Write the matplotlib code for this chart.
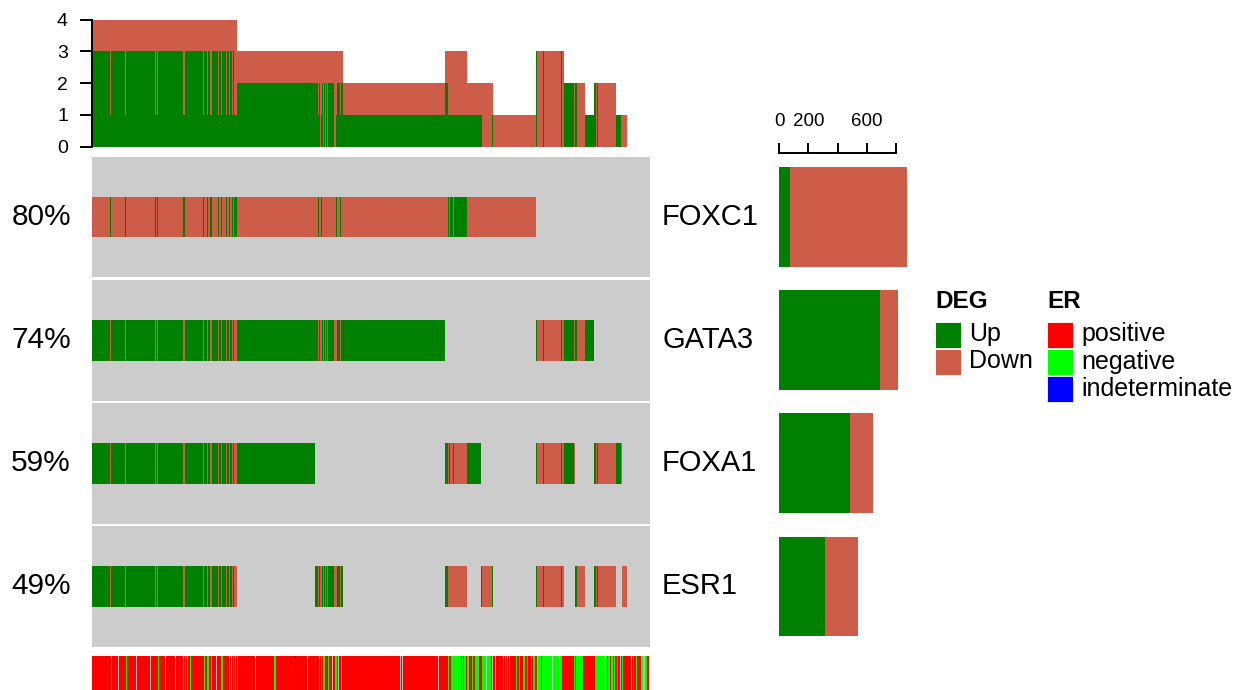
import numpy as np
import matplotlib
matplotlib.use("Agg")
import matplotlib.pyplot as plt
from matplotlib.patches import Rectangle

plt.rcParams['font.family'] = ['Liberation Sans', 'DejaVu Sans']

genes = ["FOXC1", "GATA3", "FOXA1", "ESR1"]

# Samples in display order, grouped into runs that share one DEG status
# per gene.  One character per gene (FOXC1, GATA3, FOXA1, ESR1):
# U = up, D = down, - = not differentially expressed.
run_lengths = [
    37, 2, 28, 2, 56, 2, 3, 2, 48, 2, 1, 2, 36, 2, 5, 2, 5, 2, 12, 2, 4, 2, 8, 2, 4, 2, 5, 2, 2, 6,
    154,
    6, 2, 2, 2, 2, 2, 2, 2, 2, 2, 2, 11, 3, 2, 7, 2, 4,
    201,
    6, 2, 2, 6, 2, 26, 27, 2, 20, 2,
    85,
    2, 12, 2, 33, 2, 4, 20, 2, 3, 17, 18, 4, 2, 2, 35, 10, 2, 10, 44,
]
run_states = [
    "DUUU", "UDDD", "DUUU", "UDDD", "DUUU", "UDDD", "DUUU", "UDDD", "DUUU", "UDDD",
    "DUUU", "UDDD", "DUUU", "UDDD", "DUUU", "UDDD", "DUUU", "UDDD", "DUUU", "UDDD",
    "DUUU", "UDDD", "DUUU", "UDDD", "DUUU", "UDDD", "DUUU", "UDDD", "DUUU", "UDDD",
    "DUU-",
    "DU-U", "UD-D", "DU-U", "DD-D", "UD-D", "DU-U", "DD-D", "DU-U", "DD-D", "DU-U",
    "DD-D", "DU-U", "DD-D", "UD-D", "DU-U", "UD-D", "DU-U",
    "DU--",
    "D-UU", "U-DD", "D-UD", "U-DD", "D-UD", "U-DD", "D-U-", "D--U", "D--D", "D--U",
    "D---",
    "-UUU", "-DDD", "-UUU", "-DDD", "-UUU", "-DDD", "-UU-", "-DD-", "-U-U", "-D-D",
    "-U--", "--UU", "--DD", "--UU", "--DD", "--U-", "--D-", "---D", "----",
]

# ER status of the same samples, as runs (P positive, N negative,
# I indeterminate, NA missing)
er_status = [
    "P", "N", "P", "NA", "P", "N", "P", "NA", "P", "NA", "P", "N", "P", "NA", "P", "NA",
    "P", "N", "P", "N", "P", "NA", "P", "N", "P", "N", "P", "N", "P", "N", "P", "NA",
    "P", "N", "P", "N", "P", "NA", "P", "N", "P", "N", "P", "N", "P", "NA", "P", "N",
    "P", "I", "P", "NA", "P", "N", "P", "N", "P", "N", "P", "N", "P", "NA", "P", "N",
    "P", "NA", "P", "N", "P", "NA", "P", "NA", "P", "NA", "P", "N", "P", "N", "P", "N",
    "P", "N", "P", "N", "P", "N", "P", "N", "P", "N", "NA", "N", "P", "NA", "P", "NA",
    "P", "N", "P", "N", "P", "N", "P", "N", "P", "N", "P", "N", "P", "N", "P", "N",
    "P", "N", "P", "N", "P", "NA", "N", "P", "N", "NA", "N", "NA", "N", "P", "N", "P",
    "N", "P", "N", "NA", "N", "P", "N", "P", "N", "P", "N", "P", "N", "P", "NA", "P",
    "N", "P", "NA", "P", "N", "P", "N", "P", "NA", "N", "NA", "N", "P",
]
er_lengths = [
    39, 2, 12, 2, 14, 2, 16, 2, 27, 2, 14, 2, 12, 2, 17, 2,
    14, 2, 2, 2, 2, 2, 4, 2, 25, 2, 4, 4, 4, 2, 8, 2,
    8, 4, 12, 2, 2, 2, 2, 2, 2, 2, 2, 2, 33, 2, 35, 4,
    38, 2, 21, 2, 22, 2, 2, 2, 2, 4, 6, 2, 6, 2, 4, 4,
    2, 2, 4, 2, 114, 2, 2, 2, 69, 2, 19, 2, 2, 20, 2, 2,
    2, 4, 2, 4, 6, 2, 5, 8, 6, 8, 2, 6, 2, 2, 4, 2,
    14, 2, 2, 2, 2, 2, 2, 2, 13, 2, 4, 2, 6, 4, 4, 2,
    4, 2, 2, 4, 4, 2, 6, 2, 21, 2, 12, 2, 4, 22, 2, 2,
    15, 24, 20, 2, 2, 1, 4, 2, 4, 2, 2, 4, 2, 4, 2, 2,
    2, 16, 2, 2, 2, 4, 2, 7, 2, 2, 4, 4, 5,
]

UP_COL = "#008000"
DOWN_COL = "#CD5C48"
BG_COL = "#CCCCCC"
ER_COLORS = {"P": "#FF0000", "N": "#00FF00", "I": "#0000FF", "NA": "#BEBEBE"}
ER_LABELS = [("P", "positive"), ("N", "negative"), ("I", "indeterminate")]

W, H = 1241, 690
fig = plt.figure(figsize=(W / 100, H / 100), dpi=100)


def box(x0, y0, x1, y1):
    """Axes rectangle from pixel edges measured from the top-left corner."""
    return [x0 / W, 1 - y1 / H, (x1 - x0) / W, (y1 - y0) / H]


lengths = np.array(run_lengths)
starts = np.concatenate([[0], np.cumsum(lengths)[:-1]])
n_samples = int(lengths.sum())
n_up = np.array([s.count("U") for s in run_states])
n_down = np.array([s.count("D") for s in run_states])

x_left, x_right = 91.5, 649.5
row_top, row_bottom = 155.5, 648.0
row_h = (row_bottom - row_top) / len(genes)

# ---- column barplot: number of DEGs per sample ----
ax_top = fig.add_axes(box(x_left, 19.7, x_right, 146.7))
ax_top.bar(starts, n_up, width=lengths, align="edge", color=UP_COL,
           linewidth=0, antialiased=False)
ax_top.bar(starts, n_down, width=lengths, bottom=n_up, align="edge",
           color=DOWN_COL, linewidth=0, antialiased=False)
ax_top.set_xlim(0, n_samples)
ax_top.set_ylim(0, 4)
for side in ("top", "right", "bottom"):
    ax_top.spines[side].set_visible(False)
ax_top.spines["left"].set_bounds(0, 4)
ax_top.spines["left"].set_linewidth(1.4)
ax_top.set_xticks([])
ax_top.set_yticks(range(5))
ax_top.tick_params(axis="y", length=9, width=1.4, pad=8, labelsize=14)
ax_top.patch.set_visible(False)

# ---- main oncoprint matrix ----
ax_m = fig.add_axes(box(x_left, row_top, x_right, row_bottom))
ax_m.set_xlim(0, n_samples)
ax_m.set_ylim(len(genes) - 0.5, -0.5)
ax_m.axis("off")
gene_up, gene_down = [], []
for gi, gene in enumerate(genes):
    ax_m.add_patch(Rectangle((0, gi - 0.49), n_samples, 0.98,
                             facecolor=BG_COL, linewidth=0))
    states = np.array([s[gi] for s in run_states])
    for code, color in (("U", UP_COL), ("D", DOWN_COL)):
        mask = states == code
        ax_m.barh(np.full(mask.sum(), gi), lengths[mask], left=starts[mask],
                  height=0.33, color=color, linewidth=0, antialiased=False)
    gene_up.append(int(lengths[states == "U"].sum()))
    gene_down.append(int(lengths[states == "D"].sum()))

    yc = 1 - (row_top + (gi + 0.5) * row_h) / H
    pct = round(100 * (gene_up[-1] + gene_down[-1]) / n_samples)
    fig.text(71 / W, yc, f"{pct}%", ha="right", va="center", fontsize=21.5)
    fig.text(662 / W, yc, gene, ha="left", va="center", fontsize=21)

# ---- ER annotation ----
ax_er = fig.add_axes(box(x_left, 656, x_right, 690))
er_len = np.array(er_lengths)
er_start = np.concatenate([[0], np.cumsum(er_len)[:-1]])
er_arr = np.array(er_status)
for code, color in ER_COLORS.items():
    mask = er_arr == code
    ax_er.bar(er_start[mask], np.ones(mask.sum()), width=er_len[mask], align="edge",
              color=color, linewidth=0, antialiased=False)
ax_er.set_xlim(0, n_samples)
ax_er.set_ylim(0, 1)
ax_er.axis("off")

# ---- row barplot: DEG counts per gene ----
px_per_unit = 0.146
x0_bar = 779.3
ax_r = fig.add_axes(box(x0_bar, row_top, x0_bar + 900 * px_per_unit, row_bottom))
ypos = np.arange(len(genes))
ax_r.barh(ypos, gene_up, height=0.81, color=UP_COL, linewidth=0)
ax_r.barh(ypos, gene_down, left=gene_up, height=0.81, color=DOWN_COL, linewidth=0)
ax_r.set_xlim(0, 900)
ax_r.set_ylim(len(genes) - 0.5, -0.5)
for side in ("bottom", "left", "right"):
    ax_r.spines[side].set_visible(False)
ax_r.spines["top"].set_position(("outward", 1.8))
ax_r.spines["top"].set_bounds(0, 800)
ax_r.spines["top"].set_linewidth(1.4)
ax_r.xaxis.tick_top()
ax_r.set_xticks([0, 200, 400, 600, 800])
ax_r.set_xticklabels(["0", "200", "", "600", ""])
ax_r.set_yticks([])
ax_r.tick_params(axis="x", length=7.2, width=1.4, pad=9, labelsize=13.5)
ax_r.patch.set_visible(False)

# ---- legends ----
sq_w, sq_h = 26, 26


def legend_block(x, title, items):
    fig.text(x / W, 1 - 301 / H, title, ha="left", va="center",
             fontsize=17.5, fontweight="bold")
    for k, (color, label) in enumerate(items):
        top = 321.5 + k * (sq_h + 1)
        fig.add_artist(Rectangle((x / W, 1 - (top + sq_h) / H), sq_w / W, sq_h / H,
                                 transform=fig.transFigure, facecolor=color,
                                 edgecolor="white", linewidth=0.6))
        fig.text((x + sq_w + 8) / W, 1 - (top + sq_h / 2) / H, label,
                 ha="left", va="center", fontsize=18)


legend_block(935, "DEG", [(UP_COL, "Up"), (DOWN_COL, "Down")])
legend_block(1047, "ER", [(ER_COLORS[c], lab) for c, lab in ER_LABELS])

fig.savefig("out.png", dpi=100)
